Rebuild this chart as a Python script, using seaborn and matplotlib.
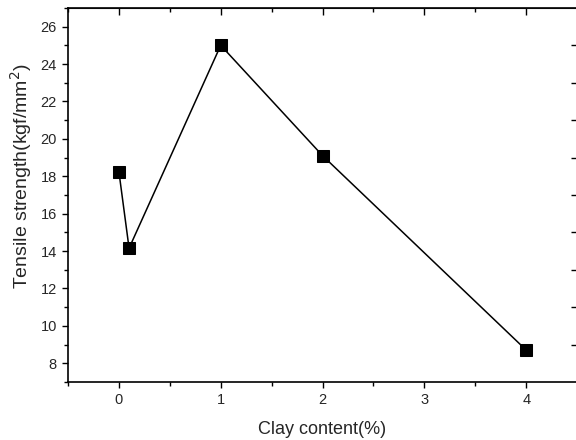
import numpy as np
import matplotlib
matplotlib.use("Agg")
import matplotlib.pyplot as plt
import seaborn as sns
from matplotlib.ticker import MultipleLocator, NullFormatter

clay = [0, 0.1, 1, 2, 4]
strength = [18.25, 14.15, 25.0, 19.1, 8.7]

sns.set_style("ticks")
plt.rcParams["font.family"] = ["Liberation Sans", "DejaVu Sans"]

fig = plt.figure(figsize=(5.76, 4.4), dpi=100)
ax = fig.add_axes([0.118, 0.132, 0.884, 0.85])

sns.lineplot(x=clay, y=strength, ax=ax, color="black", lw=1.1,
             marker="s", markersize=8, markeredgecolor="black",
             markerfacecolor="black", sort=False)

ax.set_xlim(-0.5, 4.5)
ax.set_ylim(7, 27)
ax.xaxis.set_major_locator(MultipleLocator(1))
ax.xaxis.set_minor_locator(MultipleLocator(0.5))
ax.yaxis.set_major_locator(MultipleLocator(2))
ax.yaxis.set_minor_locator(MultipleLocator(1))
ax.set_yticks(np.arange(8, 27, 2))

ax.tick_params(which="both", direction="out", labelsize=10.5, color="black", width=1)
ax.tick_params(which="major", length=4.5)
ax.tick_params(which="minor", length=3)
for s in ax.spines.values():
    s.set_color("black")
    s.set_linewidth(1.2)

# inward ticks on top and right
top = ax.secondary_xaxis("top")
top.xaxis.set_major_locator(MultipleLocator(1))
top.xaxis.set_minor_locator(MultipleLocator(0.5))
top.xaxis.set_major_formatter(NullFormatter())
top.tick_params(which="both", direction="in", width=1, color="black")
top.tick_params(which="major", length=5)
top.tick_params(which="minor", length=3)

right = ax.secondary_yaxis("right")
right.set_yticks(np.arange(9, 27, 2))
right.yaxis.set_major_formatter(NullFormatter())
right.tick_params(which="both", direction="in", width=1, length=4, color="black")

ax.set_xlabel("Clay content(%)", fontsize=13, labelpad=10)
ax.set_ylabel("Tensile strength(kgf/mm$^2$)", fontsize=14)
ax.yaxis.set_label_coords(-0.066, 0.55)

fig.savefig("out.png", dpi=100)
